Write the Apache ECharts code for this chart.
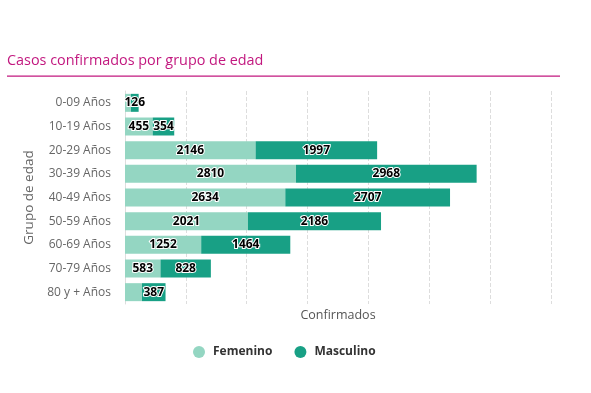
<!DOCTYPE html>
<html>
<head>
<meta charset="utf-8">
<script src="https://cdn.jsdelivr.net/npm/echarts@6/dist/echarts.min.js"></script>
<style>html,body{margin:0;padding:0;background:#fff;}#c{width:591px;height:393px;}</style>
</head>
<body>
<div id="c"></div>
<script>
var categories = ['0-09 Años','10-19 Años','20-29 Años','30-39 Años','40-49 Años','50-59 Años','60-69 Años','70-79 Años','80 y + Años'];
var femenino = [98, 455, 2146, 2810, 2634, 2021, 1252, 583, 279];
var masculino = [126, 354, 1997, 2968, 2707, 2186, 1464, 828, 387];
var xMax = 7000;
var xInterval = 1000;

var chart = echarts.init(document.getElementById('c'));
var font = '"Open Sans", "Noto Sans", sans-serif';
var lbl = {
  show: true, position: 'inside', color: '#000', fontWeight: 'bold', fontSize: 12,
  fontFamily: font, textBorderColor: '#fff', textBorderWidth: 2
};
chart.setOption({
  animation: false,
  title: {
    text: 'Casos confirmados por grupo de edad', left: 2, top: 49,
    textStyle: { color: '#c2187f', fontSize: 14.4, fontWeight: 'normal', fontFamily: font }
  },
  graphic: [{ type: 'rect', shape: { x: 7, y: 75.5, width: 553, height: 1.2 }, style: { fill: '#c2187f' } }],
  legend: {
    bottom: 30, left: 188, icon: 'circle', itemWidth: 12, itemHeight: 12, itemGap: 22,
    textStyle: { color: '#333', fontWeight: 'bold', fontSize: 12, fontFamily: font, padding: [0, 0, 0, 3] }
  },
  grid: { left: 125, right: 40, top: 91, bottom: 89, containLabel: false },
  xAxis: {
    type: 'value', min: 0, max: xMax, interval: xInterval,
    name: 'Confirmados', nameLocation: 'middle', nameGap: 5,
    nameTextStyle: { color: '#555', fontSize: 12.5, fontFamily: font },
    axisLabel: { show: false }, axisLine: { show: false }, axisTick: { show: false },
    splitLine: { lineStyle: { color: '#ddd', type: 'dashed' } }
  },
  yAxis: {
    type: 'category', data: categories, inverse: true,
    name: 'Grupo de edad', nameLocation: 'middle', nameGap: 88,
    nameTextStyle: { color: '#666', fontSize: 13.5, fontFamily: font },
    axisLabel: { color: '#666', fontSize: 12, fontFamily: font, margin: 14 },
    axisLine: { lineStyle: { color: '#ddd' } }, axisTick: { show: false }
  },
  series: [
    { name: 'Femenino', type: 'bar', stack: 't', data: femenino, barCategoryGap: '24%',
      itemStyle: { color: '#94d6c2' }, label: lbl, labelLayout: { hideOverlap: true } },
    { name: 'Masculino', type: 'bar', stack: 't', data: masculino,
      itemStyle: { color: '#18a085' }, label: lbl, labelLayout: { hideOverlap: true } }
  ]
});
</script>
</body>
</html>
